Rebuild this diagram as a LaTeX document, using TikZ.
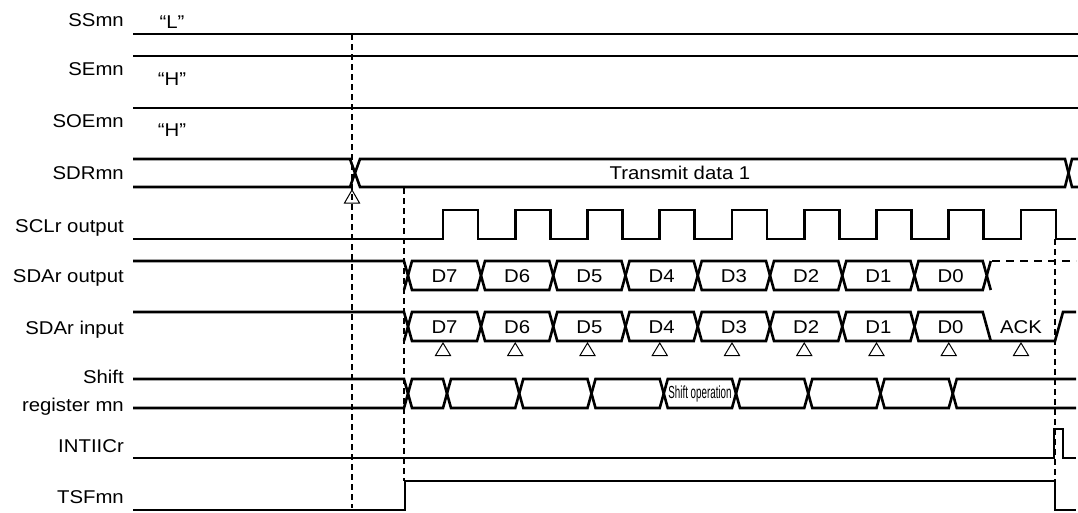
\documentclass[tikz,border=0pt]{standalone}
\usepackage{fontspec}
\setmainfont{Liberation Sans}[FakeStretch=1.1]
\newfontfamily\condfont{Liberation Sans}[FakeStretch=0.56]
\usepackage{tikz}

\begin{document}
\begin{tikzpicture}[x=1pt, y=-1pt,
  every node/.style={font=\fontsize{18.5}{21}\selectfont, inner sep=0pt},
  lbl/.style={anchor=base east},
  lvl/.style={anchor=base},
  sig/.style={line width=2.6pt, line join=miter},
  guide/.style={line width=1.3pt, dash pattern=on 6pt off 4pt},
  strobe/.style={line width=1pt}]

  \useasboundingbox (0,0) rectangle (1078,512);

  % Signal names
  \node[lbl] (ss)   at (124, 26.5) {SSmn};
  \node[lbl] (se)   at (124, 75.5) {SEmn};
  \node[lbl] (soe)  at (124,127.5) {SOEmn};
  \node[lbl] (sdr)  at (124,179)   {SDRmn};
  \node[lbl] (scl)  at (124,232.5) {SCLr output};
  \node[lbl] (sdao) at (124,282.5) {SDAr output};
  \node[lbl] (sdai) at (124,334)   {SDAr input};
  \node[lbl] (shA)  at (124,383)   {Shift};
  \node[lbl] (shB)  at (124,411)   {register mn};
  \node[lbl] (intr) at (124,452)   {INTIICr};
  \node[lbl] (tsf)  at (124,503)   {TSFmn};

  % Fixed levels
  \node[lvl] (lvlss)  at (172, 28) {“L”};
  \node[lvl] (lvlse)  at (172, 85) {“H”};
  \node[lvl] (lvlsoe) at (172,136) {“H”};
  \draw[sig] (133, 34) -- (1078, 34);
  \draw[sig] (133, 56) -- (1078, 56);
  \draw[sig] (133,108) -- (1078,108);

  % Timing guides
  \draw[guide] (352, 34) -- (352,508);
  \draw[guide] (404,188) -- (404,481);
  \draw[guide] (1055,239) -- (1055,481);

  % SDRmn
  \draw[sig] (133,159) -- (350,159) -- (360,187) -- (1065,187) -- (1072,159) -- (1078,159);
  \draw[sig] (133,187) -- (350,187) -- (360,159) -- (1065,159) -- (1072,187) -- (1078,187);
  \node (txd) at (680,173) {Transmit data 1};
  \draw[strobe] (352,190) -- (359.5,203) -- (344.5,203) -- cycle;

  % SCLr output
  \draw[sig] (133,239)
    \foreach \k in {0,...,8} {
      -- ({443+72.25*\k},239) -- ({443+72.25*\k},210)
      -- ({478+72.25*\k},210) -- ({478+72.25*\k},239) }
    -- (1076,239);

  % SDAr output
  \draw[sig] (133,261) -- (404,261) -- (408,275.5) -- (404,290);
  \foreach \d [count=\k from 0] in {D7,D6,D5,D4,D3,D2,D1,D0} {
    \pgfmathsetmacro\xa{\k==0 ? 408 : 481+72.25*(\k-1)}
    \pgfmathsetmacro\xb{481+72.25*\k}
    \draw[sig] (\xa,275.5) -- (\xa+4,261) -- (\xb-4,261) -- (\xb,275.5)
      -- (\xb-4,290) -- (\xa+4,290) -- cycle;
    \node (out\k) at ({(\xa+\xb)/2},276) {\d};
  }
  \draw[sig] (986.75,275.5) -- (990.75,261);
  \draw[sig] (986.75,275.5) -- (990.75,290);
  \draw[sig, dash pattern=on 8pt off 6pt] (992,261) -- (1076,261);

  % SDAr input
  \draw[sig] (133,312) -- (404,312) -- (408,326.5) -- (404,341);
  \foreach \d [count=\k from 0] in {D7,D6,D5,D4,D3,D2,D1} {
    \pgfmathsetmacro\xa{\k==0 ? 408 : 481+72.25*(\k-1)}
    \pgfmathsetmacro\xb{481+72.25*\k}
    \draw[sig] (\xa,326.5) -- (\xa+4,312) -- (\xb-4,312) -- (\xb,326.5)
      -- (\xb-4,341) -- (\xa+4,341) -- cycle;
    \node (in\k) at ({(\xa+\xb)/2},327) {\d};
  }
  \draw[sig] (914.5,326.5) -- (918.5,312) -- (982.75,312) -- (990.75,341);
  \draw[sig] (914.5,326.5) -- (918.5,341) -- (1055,341) -- (1063,312) -- (1076,312);
  \node (in7) at (950.5,327) {D0};
  \node (ack) at (1021,327) {ACK};
  \foreach \k in {0,...,8}
    \draw[strobe] ({443+72.25*\k},343) -- ++(7.5,12.5) -- ++(-15,0) -- cycle;

  % Shift register mn
  \draw[sig] (133,379) -- (404,379) -- (408,393.5) -- (404,408) -- (133,408);
  \foreach \k in {0,...,7} {
    \pgfmathsetmacro\xa{\k==0 ? 408 : 447+72.25*(\k-1)}
    \pgfmathsetmacro\xb{447+72.25*\k}
    \draw[sig] (\xa,393.5) -- (\xa+4,379) -- (\xb-4,379) -- (\xb,393.5)
      -- (\xb-4,408) -- (\xa+4,408) -- cycle;
  }
  \draw[sig] (1076,379) -- (956.75,379) -- (952.75,393.5) -- (956.75,408) -- (1076,408);
  \node[font=\condfont\fontsize{17.5}{19}\selectfont] (shop) at (700,394) {Shift operation};

  % INTIICr
  \draw[sig] (133,458) -- (1054,458) -- (1054,429) -- (1063,429) -- (1063,458) -- (1076,458);

  % TSFmn
  \draw[sig] (133,510) -- (405,510) -- (405,481) -- (1055,481) -- (1055,510) -- (1076,510);
\end{tikzpicture}
\end{document}
